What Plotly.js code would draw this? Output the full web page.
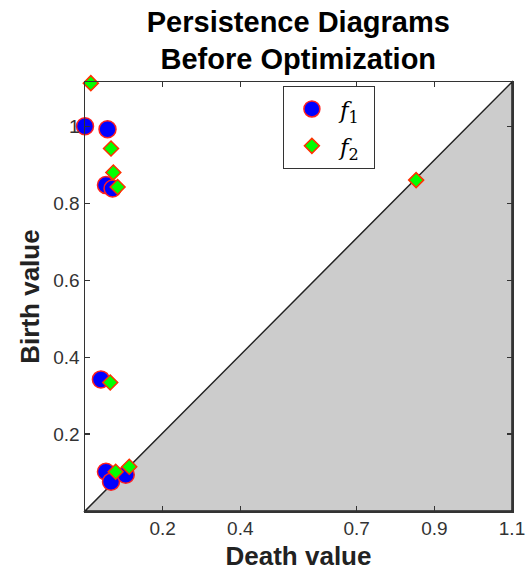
<!DOCTYPE html>
<html><head><meta charset="utf-8">
<script src="https://cdn.plot.ly/plotly-3.0.1.min.js"></script>
<style>body{margin:0;background:#fff}#chart{width:528px;height:575px}</style>
</head><body><div id="chart"></div>
<script>
// f1 (circles): death, birth
const f1Death = [0.0, 0.058, 0.054, 0.071, 0.041, 0.054, 0.067, 0.105];
const f1Birth = [1.0, 0.992, 0.847, 0.838, 0.342, 0.102, 0.076, 0.094];
// f2 (diamonds): death, birth
const f2Death = [0.015, 0.067, 0.073, 0.084, 0.065, 0.079, 0.114, 0.853];
const f2Birth = [1.112, 0.942, 0.880, 0.842, 0.334, 0.102, 0.115, 0.860];
const xTicks = [0.2, 0.4, 0.7, 0.9, 1.1];
const xTickText = ['0.2', '0.4', '0.7', '0.9', '1.1'];
const yTicks = [0.2, 0.4, 0.6, 0.8, 1.0];
const yTickText = ['0.2', '0.4', '0.6', '0.8', '1'];

const traces = [
  {x: f1Death, y: f1Birth, mode: 'markers', type: 'scatter', name: '<i>f</i><sub>1</sub>\u00a0',
   cliponaxis: false, legendgroup: 'a',
   marker: {symbol: 'circle', size: 17, color: '#0000ff', line: {color: '#ff2020', width: 1.5}}},
  {x: f2Death, y: f2Birth, mode: 'markers', type: 'scatter', name: '<i>f</i><sub>2</sub>\u00a0',
   cliponaxis: false, legendgroup: 'b',
   marker: {symbol: 'diamond', size: 11.5, color: '#00ff00', line: {color: '#ff3000', width: 1.5}}}
];

const axisCommon = {
  showline: true, mirror: 'ticks', linecolor: '#333', linewidth: 1.5,
  ticks: 'inside', ticklen: 5, tickwidth: 1.2, tickcolor: '#333',
  showgrid: false, zeroline: false,
  tickfont: {family: 'Liberation Sans, Arial, sans-serif', size: 19, color: '#333'}
};

const layout = {
  width: 528, height: 575,
  margin: {l: 85, r: 16, t: 82, b: 64},
  paper_bgcolor: '#fff', plot_bgcolor: '#fff',
  title: {text: '<b>Persistence Diagrams<br>Before Optimization</b>',
          font: {family: 'Liberation Sans, Arial, sans-serif', size: 29, color: '#000'},
          x: 0.565, xanchor: 'center', y: 0.945, yanchor: 'middle', yref: 'container'},
  xaxis: Object.assign({}, axisCommon, {
    range: [0, 1.1], tickvals: xTicks, ticktext: xTickText,
    title: {text: '<b>Death value</b>', standoff: 8,
            font: {family: 'Liberation Sans, Arial, sans-serif', size: 26, color: '#222'}}
  }),
  yaxis: Object.assign({}, axisCommon, {
    range: [0, 1.115], tickvals: yTicks, ticktext: yTickText,
    title: {text: '<b>Birth value</b>', standoff: 6,
            font: {family: 'Liberation Sans, Arial, sans-serif', size: 26, color: '#222'}}
  }),
  shapes: [
    {type: 'path', xref: 'paper', yref: 'paper', path: 'M 0 0 L 1 0 L 1 1 Z',
     fillcolor: '#cccccc', line: {color: '#222', width: 1.5}, layer: 'below'}
  ],
  showlegend: true,
  legend: {x: 0.463, y: 0.99, xanchor: 'left', yanchor: 'top',
           bgcolor: '#fff', bordercolor: '#333', borderwidth: 1.2,
           font: {family: 'DejaVu Serif, Liberation Serif, serif', size: 23, color: '#000'},
           itemwidth: 46, traceorder: 'grouped', tracegroupgap: 4}
};

Plotly.newPlot('chart', traces, layout, {displayModeBar: false, staticPlot: true});
</script>
</body></html>
